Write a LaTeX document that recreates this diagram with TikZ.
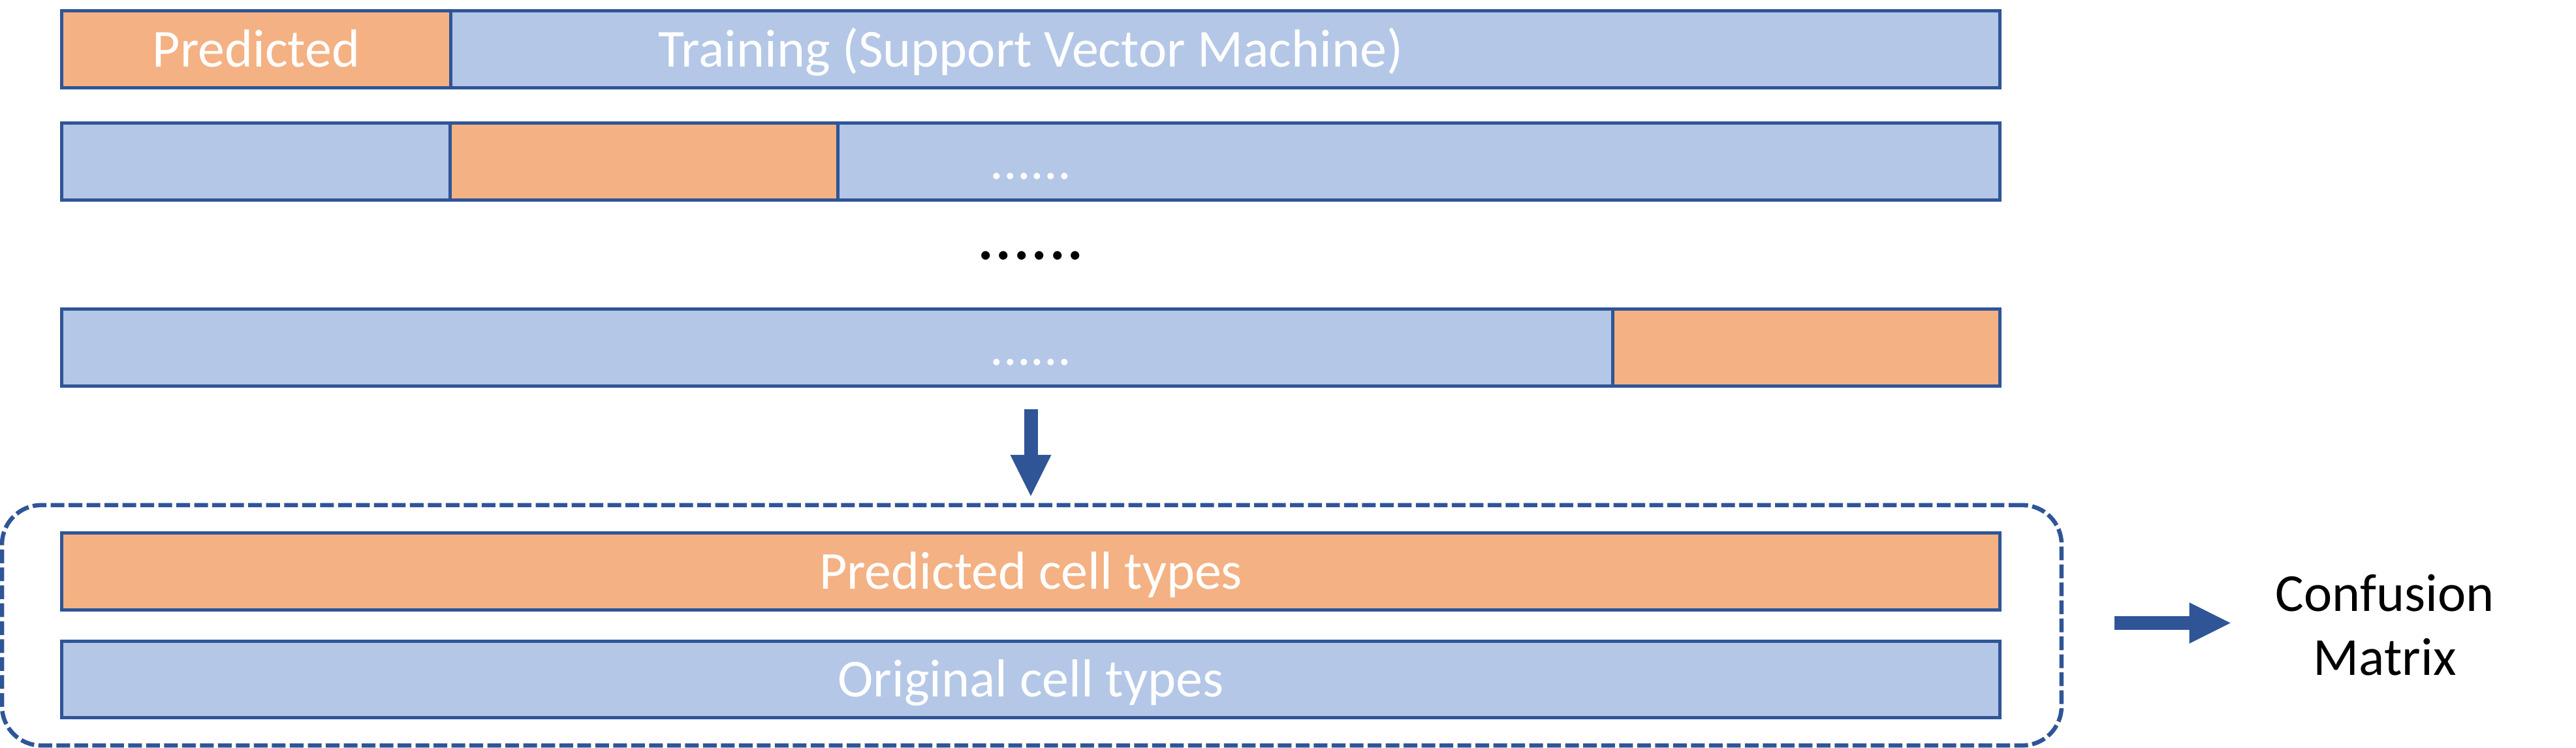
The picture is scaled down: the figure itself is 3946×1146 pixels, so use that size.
\documentclass[tikz,border=0pt]{standalone}
\usepackage{fontspec}
\setmainfont{Carlito}
\usetikzlibrary{arrows.meta,calc}
\definecolor{barblue}{HTML}{B4C7E7}
\definecolor{barorange}{HTML}{F4B183}
\definecolor{edgeblue}{HTML}{2F5597}
\begin{document}
\begin{tikzpicture}[x=0.01cm,y=-0.01cm,
  bar/.style={draw=edgeblue, line width=0.05cm, minimum width=29.68cm, minimum height=1.17cm,
    inner sep=0pt, outer sep=0pt, text=white, font=\fontsize{23.3pt}{28pt}\selectfont,
    text height=0.53cm, text depth=0pt},
  group/.style={draw=edgeblue, line width=0.065cm, dash pattern=on 0.21cm off 0.065cm,
    rounded corners=0.6cm, minimum width=31.53cm, minimum height=3.68cm, inner sep=0pt, outer sep=0pt},
  bigarrow/.style={draw=edgeblue, line width=0.21cm,
    -{Triangle[length=0.63cm, width=0.63cm, line width=0pt]}},
  label/.style={inner sep=0pt, outer sep=0pt, font=\fontsize{23.3pt}{27.86pt}\selectfont}]
\useasboundingbox (0,0) rectangle (3946,1146);
% fold rows
\node[bar, fill=barblue] (b1) at (1579,75.5) {Training (Support Vector Machine)};
\node[bar, fill=barorange, minimum width=5.95cm] (b1p) at (392.5,75.5) {Predicted};
\node[bar, fill=barblue] (b2) at (1579,247.5) {......};
\node[bar, fill=barorange, minimum width=5.93cm] (b2p) at (986.5,247.5) {};
\node[inner sep=0pt, anchor=base, font=\fontsize{31pt}{36pt}\selectfont] (dots) at (1579,397) {......};
\node[bar, fill=barblue] (b3) at (1579,532.5) {......};
\node[bar, fill=barorange, minimum width=5.92cm] (b3p) at (2767,532.5) {};
% result group
\node[group] (grp) at (1580.5,958) {};
\node[bar, fill=barorange] (pred) at (1579,875.5) {Predicted cell types};
\node[bar, fill=barblue] (orig) at (1579,1041) {Original cell types};
\node[label, anchor=base] (cm) at (3653,1034) {\begin{tabular}[b]{@{}c@{}}Confusion\\Matrix\end{tabular}};
% arrows
\draw[bigarrow, shorten <=0.36cm, shorten >=0.14cm] (b3.south) -- (b3.south |- grp.north);
\coordinate (rs) at (3157,954.5);
\draw[bigarrow, shorten <=0.82cm, shorten >=0.69cm] (rs) -- (rs -| cm.west);
\end{tikzpicture}
\end{document}
